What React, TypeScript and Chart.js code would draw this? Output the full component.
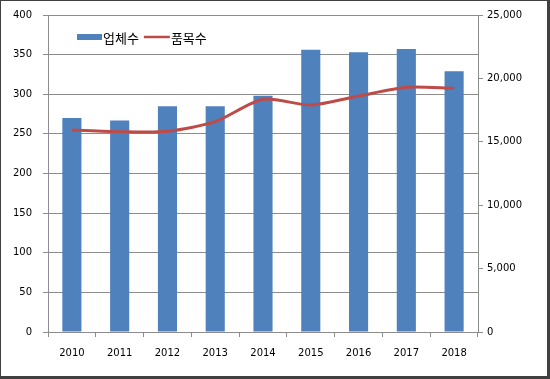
import React, { useEffect, useRef } from "react";
import { Chart, registerables } from "chart.js";

Chart.register(...registerables);

const years = ["2010", "2011", "2012", "2013", "2014", "2015", "2016", "2017", "2018"];
const companies = [270, 267, 285, 285, 298, 356, 353, 357, 329];
const items = [15930, 15800, 15830, 16590, 18350, 17900, 18610, 19300, 19220];
const leftTicks = { min: 0, max: 400, step: 50 };
const rightTicks = { min: 0, max: 25000, step: 5000 };

const legendPlugin = {
  id: "innerLegend",
  afterDraw(chart: any) {
    const ctx = chart.ctx;
    const ds = chart.data.datasets;
    ctx.save();
    ctx.font = "13px 'Noto Sans CJK KR', sans-serif";
    ctx.textBaseline = "middle";
    ctx.fillStyle = "#000";
    let x = 76;
    const y = 36;
    ctx.fillStyle = ds[0].backgroundColor;
    ctx.fillRect(x, y - 3, 25, 6);
    x += 25;
    ctx.fillStyle = "#000";
    ctx.textAlign = "left";
    ctx.fillText(ds[0].label, x + 1, y + 1);
    x += ctx.measureText(ds[0].label).width + 6;
    ctx.strokeStyle = ds[1].borderColor;
    ctx.lineWidth = 2.5;
    ctx.beginPath();
    ctx.moveTo(x, y);
    ctx.lineTo(x + 26, y);
    ctx.stroke();
    x += 26;
    ctx.fillText(ds[1].label, x + 1, y + 1);
    ctx.restore();
  },
};

export default function App() {
  const ref = useRef<HTMLCanvasElement>(null);
  useEffect(() => {
    if (!ref.current) return;
    const tickFont = { family: "'DejaVu Sans', sans-serif", size: 10 };
    const chart = new Chart(ref.current, {
      type: "bar",
      data: {
        labels: years,
        datasets: [
          {
            type: "bar",
            label: "업체수",
            data: companies,
            backgroundColor: "#4F81BD",
            borderWidth: 0,
            yAxisID: "y",
            categoryPercentage: 1,
            barPercentage: 0.4,
            order: 1,
          } as any,
          {
            type: "line",
            label: "품목수",
            data: items,
            borderColor: "#BE4B48",
            backgroundColor: "#BE4B48",
            borderWidth: 3,
            pointRadius: 0,
            tension: 0.25,
            yAxisID: "y1",
            order: 0,
          } as any,
        ],
      },
      options: {
        animation: false,
        responsive: false,
        maintainAspectRatio: false,
        layout: { padding: { top: 14, left: 0, right: 0, bottom: 0 } },
        plugins: { legend: { display: false }, tooltip: { enabled: false } },
        scales: {
          x: {
            grid: { display: true, drawOnChartArea: false, tickLength: 5, color: "#8c8c8c", offset: true },
            border: { color: "#8c8c8c" },
            ticks: { font: tickFont, color: "#000", padding: 10, maxRotation: 0 },
            afterFit(s: any) { s.height = 44; s.paddingTop = 0; s.paddingBottom = 0; },
          },
          y: {
            position: "left",
            min: leftTicks.min,
            max: leftTicks.max,
            ticks: { stepSize: leftTicks.step, font: tickFont, color: "#000", padding: 11 },
            grid: { color: "#8c8c8c", tickLength: 5 },
            border: { color: "#8c8c8c" },
            afterFit(s: any) { s.width = 47; s.paddingTop = 0; s.paddingBottom = 0; },
          },
          y1: {
            position: "right",
            min: rightTicks.min,
            max: rightTicks.max,
            ticks: { stepSize: rightTicks.step, font: tickFont, color: "#000", padding: 4 },
            grid: { drawOnChartArea: false, color: "#8c8c8c", tickLength: 5 },
            border: { color: "#8c8c8c" },
            afterFit(s: any) { s.width = 69; s.paddingTop = 0; s.paddingBottom = 0; },
          },
        },
      },
      plugins: [legendPlugin],
    });
    return () => chart.destroy();
  }, []);
  return (
    <div
      style={{
        position: "fixed",
        left: 0,
        top: 0,
        width: 550,
        height: 379,
        boxSizing: "border-box",
        borderStyle: "solid",
        borderColor: "#404040",
        borderWidth: "1px 3px 3px 1px",
        background: "#fff",
      }}
    >
      <canvas ref={ref} width={546} height={375} style={{ display: "block" }} />
    </div>
  );
}
